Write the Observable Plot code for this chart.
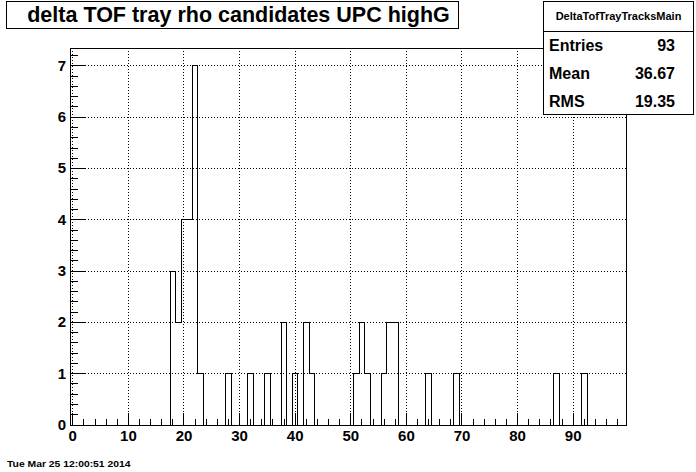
<!DOCTYPE html>
<html>
<head>
<meta charset="utf-8">
<script src="https://cdn.jsdelivr.net/npm/d3@7"></script>
<script src="https://cdn.jsdelivr.net/npm/@observablehq/plot@0.6"></script>
<style>
  html, body { margin: 0; padding: 0; background: white; }
  #wrap { position: relative; width: 696px; height: 472px; font-family: "Liberation Sans", Arial, Helvetica, sans-serif; color: black; }
  #title { position: absolute; left: 6px; top: 1px; width: 453px; height: 28px; box-sizing: border-box; border: 1px solid black; background: white; text-align: center; padding-left: 12px; font-weight: bold; font-size: 21.5px; line-height: 26px; white-space: nowrap; }
  #stats { position: absolute; left: 543px; top: 1px; width: 151px; height: 114px; box-sizing: border-box; border: 1px solid black; background: white; font-weight: bold; }
  #stats .head { height: 29px; border-bottom: 1px solid black; text-align: center; font-size: 11px; line-height: 29px; }
  #stats .row { position: relative; height: 28px; font-size: 16px; line-height: 28px; }
  #stats .row .k { position: absolute; left: 5px; }
  #stats .row .v { position: absolute; right: 18px; }
  #date { position: absolute; left: 7px; top: 459.5px; font-size: 9px; line-height: 9px; font-weight: bold; white-space: nowrap; transform: scaleX(1.15); transform-origin: left top; }
</style>
</head>
<body>
<div id="wrap"></div>
<script>
// Histogram definition (100 bins from -0.5 to 99.5)
const histTitle = "delta TOF tray rho candidates UPC highG";
const histName = "DeltaTofTrayTracksMain";
const binLow = -0.5;
const binHigh = 99.5;
const nBins = 100;
// Non-empty bins (bin centres) and their contents
const filledBins = [18, 19, 20, 21, 22, 23, 28, 32, 35, 38, 40, 42, 43, 51, 52, 53, 56, 57, 58, 64, 69, 87, 92];
const binCounts  = [ 3,  2,  4,  4,  7,  1,  1,  1,  1,  2,  1,  2,  1,  1,  2,  1,  1,  2,  2,  1,  1,  1,  1];
// Statistics box
const statNames  = ["Entries", "Mean", "RMS"];
const statValues = ["93", "36.67", "19.35"];
// Axis ticks
const xTicks = [0, 10, 20, 30, 40, 50, 60, 70, 80, 90];
const yTicks = [0, 1, 2, 3, 4, 5, 6, 7];
const yMax = 7.35;
const dateText = "Tue Mar 25 12:00:51 2014";

const binWidth = (binHigh - binLow) / nBins;
const contents = new Array(nBins).fill(0);
filledBins.forEach((b, i) => { contents[Math.round((b - binLow - binWidth / 2) / binWidth)] = binCounts[i]; });
const steps = contents.map((c, i) => ({x: binLow + i * binWidth, y: c}));
steps.push({x: binHigh, y: contents[nBins - 1]});

const xMinor = d3.range(0, binHigh, 2).filter(d => d % 10 !== 0);
const yMinor = d3.range(0, yMax, 0.2).filter(d => Math.abs(d - Math.round(d)) > 1e-6);

const W = 696, H = 472;
const mL = 69.5, mR = 70.5, mT = 47.5, mB = 47.5;
const fw = W - mL - mR, fh = H - mT - mB;

const plot = Plot.plot({
  width: W, height: H,
  marginLeft: mL, marginRight: mR, marginTop: mT, marginBottom: mB,
  x: {domain: [binLow, binHigh]},
  y: {domain: [0, yMax]},
  style: {fontFamily: "'Liberation Sans', Arial, Helvetica, sans-serif", background: "white", color: "black", overflow: "visible"},
  marks: [
    Plot.gridX(xTicks, {stroke: "black", strokeOpacity: 1, strokeDasharray: "1,2", strokeWidth: 1, shapeRendering: "crispEdges"}),
    Plot.gridY(yTicks.filter(d => d > 0), {stroke: "black", strokeOpacity: 1, strokeDasharray: "1,2", strokeWidth: 1, shapeRendering: "crispEdges"}),
    Plot.tickX(xMinor, {x: d => d, stroke: "black", insetTop: fh - 5.7, shapeRendering: "crispEdges"}),
    Plot.tickX(xTicks, {x: d => d, stroke: "black", insetTop: fh - 11.3, shapeRendering: "crispEdges"}),
    Plot.tickY(yMinor, {y: d => d, stroke: "black", insetRight: fw - 8.3, shapeRendering: "crispEdges"}),
    Plot.tickY(yTicks, {y: d => d, stroke: "black", insetRight: fw - 16.7, shapeRendering: "crispEdges"}),
    Plot.line(steps, {x: "x", y: "y", curve: "step-after", stroke: "black", strokeWidth: 1, shapeRendering: "crispEdges"}),
    Plot.frame({stroke: "black", shapeRendering: "crispEdges"}),
    Plot.axisX({ticks: xTicks, tickSize: 0, tickPadding: 5, fontSize: 15, fontWeight: "bold", label: null}),
    Plot.axisY({ticks: yTicks, tickSize: 0, tickPadding: 4, fontSize: 15, fontWeight: "bold", label: null})
  ]
});

const wrap = document.getElementById("wrap");
wrap.appendChild(plot);

const title = document.createElement("div");
title.id = "title";
title.textContent = histTitle;
wrap.appendChild(title);

const stats = document.createElement("div");
stats.id = "stats";
const head = document.createElement("div");
head.className = "head";
head.textContent = histName;
stats.appendChild(head);
statNames.forEach((n, i) => {
  const row = document.createElement("div");
  row.className = "row";
  const k = document.createElement("span"); k.className = "k"; k.textContent = n;
  const v = document.createElement("span"); v.className = "v"; v.textContent = statValues[i];
  row.appendChild(k); row.appendChild(v);
  stats.appendChild(row);
});
wrap.appendChild(stats);

const date = document.createElement("div");
date.id = "date";
date.textContent = dateText;
wrap.appendChild(date);
</script>
</body>
</html>
